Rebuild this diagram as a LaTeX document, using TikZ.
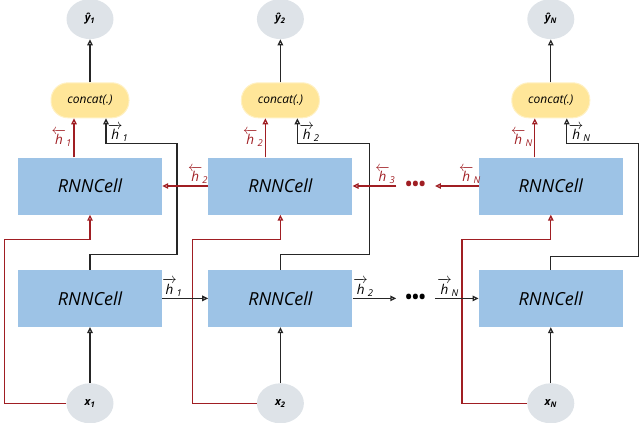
\documentclass[tikz,border=0pt]{standalone}
\usepackage{amsmath}
\usepackage{fontspec}
\setmainfont{Open Sans}
\usepackage{color}
\usepackage{tikz}
\usetikzlibrary{arrows.meta,positioning,shapes}
\definecolor{cellblue}{RGB}{157,195,230}
\definecolor{catyellow}{RGB}{255,230,153}
\definecolor{catline}{RGB}{255,241,196}
\definecolor{iogray}{RGB}{222,227,232}
\definecolor{backred}{RGB}{160,30,35}
\newcommand{\hb}[1]{$\overleftarrow{\textit{h}}_{\textit{#1}}$}
\newcommand{\hf}[1]{$\overrightarrow{\textit{h}}_{\textit{#1}}$}
\tikzset{
  cell/.style={fill=cellblue, minimum width=144pt, minimum height=57pt, inner sep=0pt, font=\fontsize{18}{20}\selectfont\itshape},
  cat/.style={fill=catyellow, draw=catline, line width=1pt, rounded corners=17pt, minimum width=78pt, minimum height=35pt, inner sep=0pt, font=\fontsize{12}{14}\selectfont\itshape},
  io/.style={ellipse, fill=iogray, minimum width=47pt, minimum height=40pt, inner sep=0pt, font=\fontsize{11}{13}\selectfont\bfseries\itshape},
  fwd/.style={draw=black!85, line width=1.3pt, -{Triangle[open,length=6pt,width=5.5pt]}},
  bwd/.style={fwd, draw=backred},
  dots/.style={inner xsep=9pt, inner ysep=0pt, font=\fontsize{18}{18}\selectfont\bfseries},
  lab/.style={font=\fontsize{13.5}{15}\selectfont, inner sep=1.5pt},
}
\begin{document}
\begin{tikzpicture}[x=1pt, y=-1pt]
    \useasboundingbox (0,0) rectangle (640,423);
    \node[cell] (top1) at (90,186) {RNNCell};
    \node[cell, below=55pt of top1] (bot1) {RNNCell};
    \node[cat, above=39pt of top1] (cat1) {concat(.)};
    \node[io, above=43pt of cat1] (out1) {ŷ\textsubscript{1}};
    \node[io, below=56pt of bot1] (in1) {x\textsubscript{1}};

    \node[cell, right=46pt of top1] (top2) {RNNCell};
    \node[cell, below=55pt of top2] (bot2) {RNNCell};
    \node[cat, above=39pt of top2] (cat2) {concat(.)};
    \node[io, above=43pt of cat2] (out2) {ŷ\textsubscript{2}};
    \node[io, below=56pt of bot2] (in2) {x\textsubscript{2}};

    \node[cell, right=126pt of top2] (top3) {RNNCell};
    \node[cell, below=55pt of top3] (bot3) {RNNCell};
    \node[cat, above=39pt of top3] (cat3) {concat(.)};
    \node[io, above=43pt of cat3] (out3) {ŷ\textsubscript{N}};
    \node[io, below=56pt of bot3] (in3) {x\textsubscript{N}};

    \path (top2.east) -- (top3.west) node[dots, text=backred, midway] (dotsT) {\textbullet\textbullet\textbullet};
    \path (bot2.east) -- (bot3.west) node[dots, midway] (dotsB) {\textbullet\textbullet\textbullet};

    \draw[fwd] (cat1) -- (out1);
    \draw[fwd] (cat2) -- (out2);
    \draw[fwd] (cat3) -- (out3);
    \draw[fwd] (in1) -- (bot1);
    \draw[fwd] (in2) -- (bot2);
    \draw[fwd] (in3) -- (bot3);

    \draw[bwd] ([xshift=-16pt]top1.north) -- node[lab, left, text=backred] {\hb{1}} ([xshift=-16pt]cat1.south);
    \draw[bwd] ([xshift=-15pt]top2.north) -- node[lab, left, text=backred] {\hb{2}} ([xshift=-15pt]cat2.south);
    \draw[bwd] ([xshift=-16pt]top3.north) -- node[lab, left, text=backred] {\hb{N}} ([xshift=-16pt]cat3.south);

    \draw[fwd] (bot1.north) -- ++(0,-15) -- ++(87,0) -- ++(0,-111) -| node[lab, pos=0.5, anchor=south west] {\hf{1}} ([xshift=16pt]cat1.south);
    \draw[fwd] (bot2.north) -- ++(0,-15) -- ++(89,0) -- ++(0,-111) -| node[lab, pos=0.5, anchor=south west] {\hf{2}} ([xshift=17pt]cat2.south);
    \draw[fwd] (bot3.north) -- ++(0,-13) -- ++(88,0) -- ++(0,-113) -| node[lab, pos=0.5, anchor=south west] {\hf{N}} ([xshift=16pt]cat3.south);

    \draw[bwd] (in1.west) -- ++(-62,0) |- ([yshift=-25pt]top1.south) -- (top1.south);
    \draw[bwd] (in2.west) -- ++(-64,0) |- ([yshift=-25pt]top2.south) -- (top2.south);
    \draw[bwd] (in3.west) -- ++(-65,0) |- ([yshift=-25pt]top3.south) -- (top3.south);

    \draw[fwd] (bot1) -- node[lab, above, pos=0.22] {\hf{1}} (bot2);
    \draw[fwd] (bot2) -- node[lab, above, pos=0.25] {\hf{2}} (dotsB);
    \draw[fwd] (dotsB) -- node[lab, above, pos=0.3] {\hf{N}} (bot3);

    \draw[bwd] (top2) -- node[lab, above, pos=0.22, text=backred] {\hb{2}} (top1);
    \draw[bwd] (dotsT) -- node[lab, above, pos=0.25, text=backred] {\hb{3}} (top2);
    \draw[bwd] (top3) -- node[lab, above, pos=0.2, text=backred] {\hb{N}} (dotsT);
\end{tikzpicture}
\end{document}
